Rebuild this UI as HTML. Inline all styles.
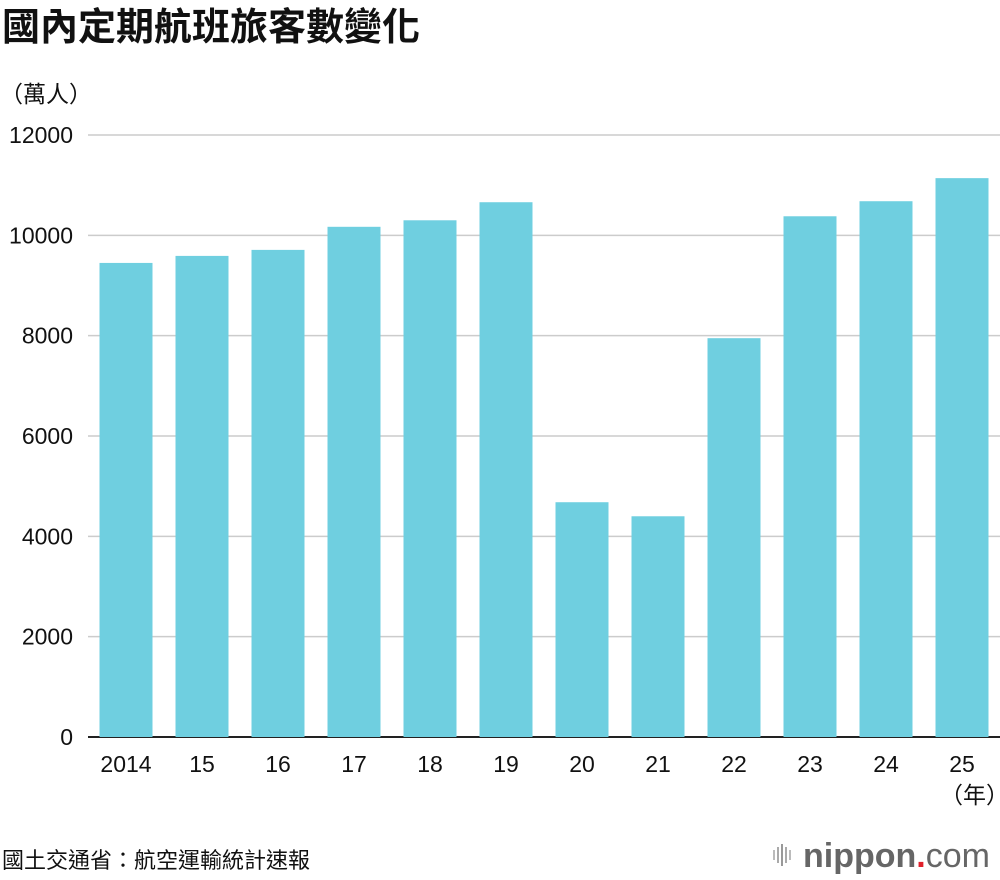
<!DOCTYPE html>
<html><head><meta charset="utf-8"><style>
body{margin:0;background:#fff;width:1000px;height:880px;overflow:hidden;font-family:"Liberation Sans","Noto Sans CJK TC",sans-serif;}
svg{display:block}
</style></head><body>
<svg id="c" width="1000" height="880" font-family="Liberation Sans, Noto Sans CJK TC, sans-serif">
<text x="2" y="40" font-size="38" font-weight="bold" fill="#111">國內定期航班旅客數變化</text>
<text x="0" y="102" font-size="23" fill="#111">（萬人）</text>
<text x="940" y="803" font-size="23" fill="#111">（年）</text>
<text x="2" y="868" font-size="22" fill="#111">國土交通省：航空運輸統計速報</text>
<g>
<rect x="773" y="850" width="2" height="10" fill="#bbb"/><rect x="777" y="847" width="2" height="16" fill="#aaa"/><rect x="781" y="844" width="2" height="22" fill="#999"/><rect x="785" y="847" width="2" height="16" fill="#aaa"/><rect x="789" y="850" width="2" height="10" fill="#bbb"/>
<text x="803" y="867" font-size="34" font-weight="bold" fill="#666">nippon<tspan fill="#e0202a">.</tspan><tspan font-weight="normal">com</tspan></text>
</g>
<g id="grid"></g><g id="bars"></g><g id="labels"></g>
</svg>
<script>
const categories=["2014","15","16","17","18","19","20","21","22","23","24","25"];
const values=[9450,9590,9710,10170,10300,10660,4680,4400,7950,10380,10680,11140];
const yTicks=[0,2000,4000,6000,8000,10000,12000];
const NS="http://www.w3.org/2000/svg";
const x0=88,band=76,barW=53,yBase=737,yTop=135,yMax=12000;
const y=v=>yBase-(v/yMax)*(yBase-yTop);
const xc=i=>x0+band*i+band/2;
function mk(t,a,p){const e=document.createElementNS(NS,t);for(const k in a)e.setAttribute(k,a[k]);p.appendChild(e);return e;}
const g=document.getElementById('grid'),b=document.getElementById('bars'),l=document.getElementById('labels');
yTicks.forEach(v=>{
 const ln=mk('line',{x1:x0,x2:1000,y1:y(v),y2:y(v),stroke:v===0?'#222':'#ccc','stroke-width':v===0?2:1.5},g);
 
 
 const t=mk('text',{x:73,y:y(v)+8,'text-anchor':'end','font-size':23,fill:'#111'},l);
 t.textContent=v;
 
 
});
categories.forEach((c,i)=>{
 const r=mk('rect',{x:xc(i)-barW/2,y:y(values[i]),width:barW,height:yBase-y(values[i]),fill:'#6fcfe0'},b);
 
 
 const t=mk('text',{x:xc(i),y:772,'text-anchor':'middle','font-size':23,fill:'#111'},l);
 t.textContent=c;
 
 
});
</script>
</body></html>
